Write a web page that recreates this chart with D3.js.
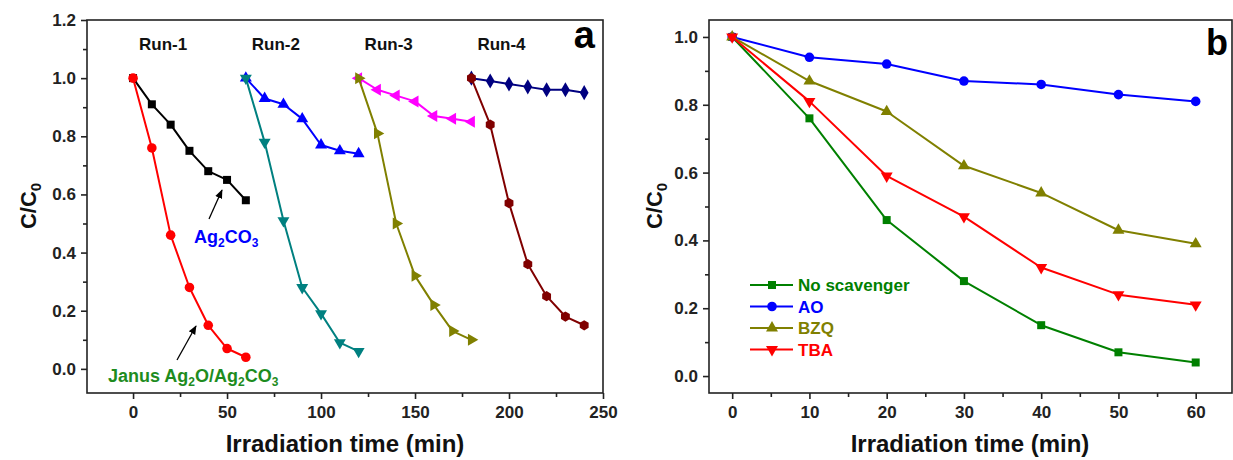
<!DOCTYPE html>
<html>
<head>
<meta charset="utf-8">
<script src="https://cdn.jsdelivr.net/npm/d3@7"></script>
<style>
  body { margin: 0; background: #fff; }
  text { font-family: Arial, "Liberation Sans", sans-serif; font-weight: bold; }
</style>
</head>
<body>
<div id="chart"></div>
<script>
// ---- data: panel a (runs) ----
var runOffsets = [0, 60, 120, 180];
var runSteps = [0, 10, 20, 30, 40, 50, 60];
var runLabels = ["Run-1", "Run-2", "Run-3", "Run-4"];
var janusRuns = [
  [1.0, 0.76, 0.46, 0.28, 0.15, 0.07, 0.04],
  [1.0, 0.78, 0.51, 0.28, 0.19, 0.09, 0.06],
  [1.0, 0.81, 0.50, 0.32, 0.22, 0.13, 0.10],
  [1.0, 0.84, 0.57, 0.36, 0.25, 0.18, 0.15]
];
var ag2co3Runs = [
  [1.0, 0.91, 0.84, 0.75, 0.68, 0.65, 0.58],
  [1.0, 0.93, 0.91, 0.86, 0.77, 0.75, 0.74],
  [1.0, 0.96, 0.94, 0.92, 0.87, 0.86, 0.85],
  [1.0, 0.99, 0.98, 0.97, 0.96, 0.96, 0.95]
];
var janusColors = ["#ff0000", "#008080", "#808000", "#800000"];
var janusShapes = ["circle", "triDown", "triRight", "hexagon"];
var ag2co3Colors = ["#000000", "#0000ff", "#ff00ff", "#000080"];
var ag2co3Shapes = ["square", "triUp", "triLeft", "diamond"];

// ---- data: panel b (scavengers) ----
var scavTimes = [0, 10, 20, 30, 40, 50, 60];
var scavNames = ["No scavenger", "AO", "BZQ", "TBA"];
var scavValues = [
  [1.0, 0.76, 0.46, 0.28, 0.15, 0.07, 0.04],
  [1.0, 0.94, 0.92, 0.87, 0.86, 0.83, 0.81],
  [1.0, 0.87, 0.78, 0.62, 0.54, 0.43, 0.39],
  [1.0, 0.81, 0.59, 0.47, 0.32, 0.24, 0.21]
];
var scavColors = ["#008000", "#0000ff", "#808000", "#ff0000"];
var scavShapes = ["square", "circle", "triUp", "triDown"];

var svg = d3.select("#chart").append("svg")
  .attr("width", 1233)
  .attr("height", 460);

// marker path builder
function hexType() {
  return {
    draw: function(ctx, size) {
      var r = Math.sqrt(size / 2.6);
      for (var i = 0; i < 6; i++) {
        var a = Math.PI / 3 * i + Math.PI / 6;
        if (i === 0) ctx.moveTo(r * Math.cos(a), r * Math.sin(a));
        else ctx.lineTo(r * Math.cos(a), r * Math.sin(a));
      }
      ctx.closePath();
    }
  };
}
function marker(g, shape, x, y, color) {
  var type = d3.symbolSquare, rot = 0, size = 64;
  if (shape === "circle") { type = d3.symbolCircle; size = 72; }
  if (shape === "triUp") { type = d3.symbolTriangle; size = 62; }
  if (shape === "triDown") { type = d3.symbolTriangle; size = 62; rot = 180; }
  if (shape === "triLeft") { type = d3.symbolTriangle; size = 62; rot = -90; }
  if (shape === "triRight") { type = d3.symbolTriangle; size = 62; rot = 90; }
  if (shape === "diamond") { type = d3.symbolDiamond; size = 66; }
  if (shape === "hexagon") { type = hexType(); size = 68; }
  g.append("path")
    .attr("d", d3.symbol().type(type).size(size)())
    .attr("transform", "translate(" + x + "," + y + ") rotate(" + rot + ")")
    .attr("fill", color);
}

// draws frame + axes, returns scales
function makePanel(box, xDom, yDom, xMajor, xMinor, yMajor, yMinor, yFmt) {
  var x = d3.scaleLinear().domain(xDom).range([box.left, box.right]);
  var y = d3.scaleLinear().domain(yDom).range([box.bottom, box.top]);

  var gx = svg.append("g").attr("transform", "translate(0," + box.bottom + ")");
  gx.call(d3.axisBottom(x).tickValues(xMinor).tickSize(4).tickSizeOuter(0).tickFormat(""));
  gx.call(function(g) { g.select(".domain").remove(); });
  var gx2 = svg.append("g").attr("transform", "translate(0," + box.bottom + ")");
  gx2.call(d3.axisBottom(x).tickValues(xMajor).tickSize(6).tickPadding(7).tickSizeOuter(0).tickFormat(d3.format("d")));
  gx2.select(".domain").remove();

  var gy = svg.append("g").attr("transform", "translate(" + box.left + ",0)");
  gy.call(d3.axisLeft(y).tickValues(yMinor).tickSize(4).tickSizeOuter(0).tickFormat(""));
  gy.select(".domain").remove();
  var gy2 = svg.append("g").attr("transform", "translate(" + box.left + ",0)");
  gy2.call(d3.axisLeft(y).tickValues(yMajor).tickSize(6).tickPadding(5).tickSizeOuter(0).tickFormat(d3.format(yFmt)));
  gy2.select(".domain").remove();

  svg.selectAll(".tick line").attr("stroke", "#222").attr("stroke-width", 1.6);
  svg.selectAll(".tick text")
    .attr("font-size", 17)
    .attr("fill", "#222")
    .attr("font-family", "Arial, 'Liberation Sans', sans-serif")
    .attr("font-weight", "bold");

  svg.append("rect")
    .attr("x", box.left).attr("y", box.top)
    .attr("width", box.right - box.left).attr("height", box.bottom - box.top)
    .attr("fill", "none").attr("stroke", "#222").attr("stroke-width", 1.6);

  return { x: x, y: y };
}

function drawSeries(sc, xs, ys, color, shape) {
  var pts = xs.map(function(d, i) { return [d, ys[i]]; });
  var line = d3.line()
    .x(function(d) { return sc.x(d[0]); })
    .y(function(d) { return sc.y(d[1]); });
  svg.append("path").datum(pts)
    .attr("d", line)
    .attr("fill", "none")
    .attr("stroke", color)
    .attr("stroke-width", 2)
    .attr("stroke-linejoin", "round");
  var g = svg.append("g");
  pts.forEach(function(p) { marker(g, shape, sc.x(p[0]), sc.y(p[1]), color); });
}

function yLabel(cx, cy) {
  var t = svg.append("text")
    .attr("transform", "translate(" + cx + "," + cy + ") rotate(-90)")
    .attr("text-anchor", "middle")
    .attr("font-size", 22)
    .attr("fill", "#111");
  t.append("tspan").text("C/C");
  t.append("tspan").text("0").attr("font-size", 15).attr("dy", 5);
}
function xLabel(cx, cy) {
  svg.append("text")
    .attr("x", cx).attr("y", cy)
    .attr("text-anchor", "middle")
    .attr("font-size", 24)
    .attr("fill", "#111")
    .text("Irradiation time (min)");
}
function arrowDefs() {
  svg.append("defs").append("marker")
    .attr("id", "arrowHead")
    .attr("viewBox", "0 0 10 10")
    .attr("refX", 9).attr("refY", 5)
    .attr("markerWidth", 7).attr("markerHeight", 7)
    .attr("orient", "auto")
    .append("path").attr("d", "M0,1 L10,5 L0,9 Z").attr("fill", "#000");
}

// ---------- panel a ----------
arrowDefs();
var a = makePanel({ left: 87, right: 603, top: 20, bottom: 393 },
  [-24.5, 250], [-0.083, 1.2],
  [0, 50, 100, 150, 200, 250], [25, 75, 125, 175, 225],
  [0, 0.2, 0.4, 0.6, 0.8, 1.0, 1.2], [0.1, 0.3, 0.5, 0.7, 0.9, 1.1], ".1f");

runOffsets.forEach(function(off, r) {
  var xs = runSteps.map(function(s) { return s + off; });
  drawSeries(a, xs, ag2co3Runs[r], ag2co3Colors[r], ag2co3Shapes[r]);
  drawSeries(a, xs, janusRuns[r], janusColors[r], janusShapes[r]);
  svg.append("text")
    .attr("x", a.x(off + 16)).attr("y", 50)
    .attr("text-anchor", "middle")
    .attr("font-size", 17)
    .attr("fill", "#111")
    .text(runLabels[r]);
});

svg.append("text").attr("x", 595).attr("y", 48).attr("text-anchor", "end")
  .attr("font-size", 38).attr("fill", "#000").text("a");

// annotations
svg.append("line")
  .attr("x1", 209).attr("y1", 219).attr("x2", 222).attr("y2", 190)
  .attr("stroke", "#000").attr("stroke-width", 1.3)
  .attr("marker-end", "url(#arrowHead)");
var t1 = svg.append("text").attr("x", 194).attr("y", 243)
  .attr("font-size", 18).attr("font-weight", "normal").attr("fill", "#0000ff");
t1.append("tspan").text("Ag");
t1.append("tspan").text("2").attr("font-size", 12).attr("dy", 4);
t1.append("tspan").text("CO").attr("dy", -4);
t1.append("tspan").text("3").attr("font-size", 12).attr("dy", 4);

svg.append("line")
  .attr("x1", 177).attr("y1", 360).attr("x2", 196).attr("y2", 326)
  .attr("stroke", "#000").attr("stroke-width", 1.3)
  .attr("marker-end", "url(#arrowHead)");
var t2 = svg.append("text").attr("x", 108).attr("y", 382)
  .attr("font-size", 18).attr("font-weight", "normal").attr("fill", "#1e8c1e");
t2.append("tspan").text("Janus Ag");
t2.append("tspan").text("2").attr("font-size", 12).attr("dy", 4);
t2.append("tspan").text("O/Ag").attr("dy", -4);
t2.append("tspan").text("2").attr("font-size", 12).attr("dy", 4);
t2.append("tspan").text("CO").attr("dy", -4);
t2.append("tspan").text("3").attr("font-size", 12).attr("dy", 4);

yLabel(36, 206);
xLabel(345, 452);

// ---------- panel b ----------
var b = makePanel({ left: 709, right: 1232, top: 20, bottom: 393 },
  [-3, 64.7], [-0.05, 1.05],
  [0, 10, 20, 30, 40, 50, 60], [5, 15, 25, 35, 45, 55],
  [0, 0.2, 0.4, 0.6, 0.8, 1.0], [0.1, 0.3, 0.5, 0.7, 0.9], ".1f");

scavValues.forEach(function(vals, i) {
  drawSeries(b, scavTimes, vals, scavColors[i], scavShapes[i]);
});

svg.append("text").attr("x", 1228).attr("y", 55).attr("text-anchor", "end")
  .attr("font-size", 36).attr("fill", "#000").text("b");

// legend
var leg = svg.append("g");
scavNames.forEach(function(name, i) {
  var ly = 285 + i * 21.5;
  leg.append("line").attr("x1", 750).attr("x2", 793).attr("y1", ly).attr("y2", ly)
    .attr("stroke", scavColors[i]).attr("stroke-width", 2);
  marker(leg, scavShapes[i], 772, ly, scavColors[i]);
  leg.append("text").attr("x", 798).attr("y", ly + 6)
    .attr("font-size", 17).attr("fill", scavColors[i]).text(name);
});

yLabel(662, 206);
xLabel(970, 452);
</script>
</body>
</html>
